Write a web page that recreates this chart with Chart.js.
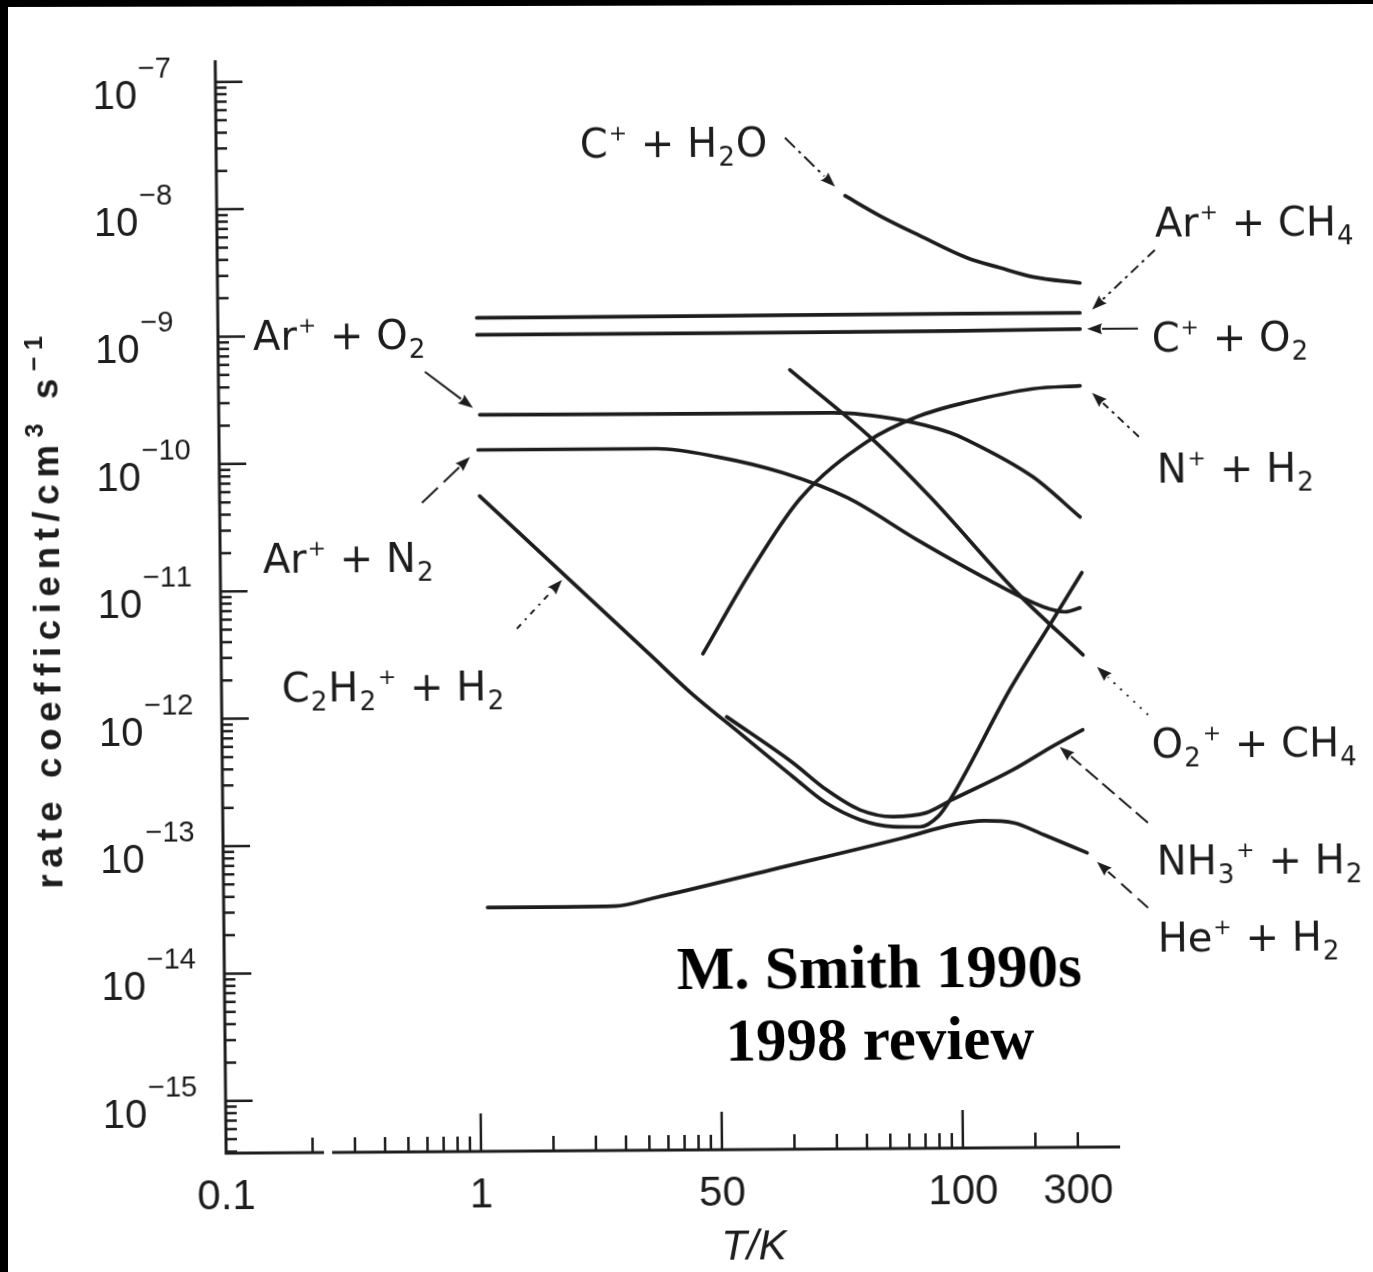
<!DOCTYPE html>
<html><head><meta charset="utf-8">
<script src="https://cdn.jsdelivr.net/npm/chart.js@4.4.0/dist/chart.umd.min.js"></script>
<style>
html,body{margin:0;padding:0;background:#fff;overflow:hidden;}
#wrap{position:relative;width:1373px;height:1272px;background:#fff;overflow:hidden;}
#c{position:absolute;left:0;top:0;width:1373px;height:1272px;transform-origin:686.5px 636px;transform:matrix(1,-0.007,0.01,1,0,0);}
#edgeL{position:absolute;left:0;top:0;width:8px;height:1272px;background:#000;}
#edgeT{position:absolute;left:0;top:0;width:1373px;height:8px;background:#000;clip-path:polygon(0 0,100% 0,100% 4px,0 7px);}
</style></head>
<body><div id="wrap"><canvas id="c" width="1373" height="1272"></canvas><div id="edgeL"></div><div id="edgeT"></div></div>
<script>
// ---------- axis ranges ----------
const X_MIN = 0.0875, X_MAX = 449;
const Y_MIN = 3.89e-16, Y_MAX = 1.48e-7;

// ---------- series (T in K, k in cm^3 s^-1) ----------
const T_cH2O = [35.5, 49.5, 72.3, 113, 155, 212, 332];
const k_cH2O = [1.18e-8, 8.17e-9, 5.68e-9, 3.79e-9, 3.15e-9, 2.66e-9, 2.37e-9];

const T_arCH4 = [1.04, 10, 100, 331];
const k_arCH4 = [1.36e-9, 1.37e-9, 1.38e-9, 1.38e-9];

const T_cO2 = [1.04, 10, 100, 331];
const k_cO2 = [1.0e-9, 1.0e-9, 1.01e-9, 1.03e-9];

const T_arO2 = [1.06, 8.7, 31, 58.7, 94.5, 111, 208, 325];
const k_arO2 = [2.36e-10, 2.34e-10, 2.34e-10, 2.04e-10, 1.61e-10, 1.41e-10, 7.16e-11, 3.45e-11];

const T_arN2 = [1.04, 2.27, 5.74, 10.2, 19.1, 35.5, 68.3, 128, 226, 279, 322];
const k_arN2 = [1.25e-10, 1.25e-10, 1.25e-10, 1.07e-10, 7.95e-11, 5.0e-11, 2.33e-11, 1.18e-11, 6.84e-12, 6.22e-12, 6.67e-12];

const T_nH2 = [8.74, 13.8, 22.4, 42.8, 69.0, 111, 210, 329];
const k_nH2 = [3.05e-12, 1.31e-11, 4.95e-11, 1.38e-10, 2.15e-10, 2.78e-10, 3.52e-10, 3.69e-10];

const T_o2CH4 = [20.6, 45.3, 78.4, 177, 330];
const k_o2CH4 = [5.1e-10, 1.43e-10, 4.97e-11, 8.83e-12, 2.85e-12];

const T_c2h2 = [1.05, 5.27, 7.69, 12.6, 20.4, 27.9, 38.6, 52.8, 68.4, 81.3, 91.4, 165, 241, 329];
const k_c2h2 = [5.43e-11, 3.02e-12, 1.53e-12, 7.0e-13, 3.27e-13, 2.03e-13, 1.49e-13, 1.31e-13, 1.30e-13, 1.56e-13, 2.11e-13, 1.58e-12, 4.92e-12, 1.26e-11];

const T_nh3 = [10.9, 20.4, 28.0, 38.6, 52.9, 72.4, 93.1, 167, 243, 327];
const k_nh3 = [9.73e-13, 4.21e-13, 2.58e-13, 1.78e-13, 1.57e-13, 1.67e-13, 2.11e-13, 3.60e-13, 5.44e-13, 7.36e-13];

const T_heH2 = [1.09, 2.29, 3.69, 5.41, 16.5, 58.6, 94.4, 126, 168, 223, 337];
const k_heH2 = [3.2e-14, 3.2e-14, 3.22e-14, 3.73e-14, 6.10e-14, 1.07e-13, 1.35e-13, 1.44e-13, 1.38e-13, 1.11e-13, 7.96e-14];

// ---------- ticks ----------
const xTickValues = [X_MIN, 1, 10, 100, 300];
const xTickLabels = ['0.1', '1', '50', '100', '300'];
const xMajorTicks = [1, 10, 100];
const xMinorTicks = [0.2,0.3,0.4,0.5,0.6,0.7,0.8,0.9,2,3,4,5,6,7,8,9,20,30,40,50,60,70,80,90,200,300];
const AXIS_BREAK = [0.223, 0.241];
const yMajorTicks = [1e-7,1e-8,1e-9,1e-10,1e-11,1e-12,1e-13,1e-14,1e-15];
const yTickExponents = ['−7','−8','−9','−10','−11','−12','−13','−14','−15'];

// ---------- annotations ----------
const labelTexts = ['C^+ + H_2O','Ar^+ + CH_4','C^+ + O_2','N^+ + H_2','Ar^+ + O_2','Ar^+ + N_2','C_2H_2^+ + H_2','O_2^+ + CH_4','NH_3^+ + H_2','He^+ + H_2'];
const labelT = [2.83, 683, 656, 680, 0.1224, 0.1315, 0.1558, 631, 655, 656];
const labelK = [2.42e-8, 5.40e-9, 6.76e-10, 6.33e-11, 7.87e-10, 1.39e-11, 1.35e-12, 4.40e-13, 5.30e-14, 1.32e-14];

const arrowTailT = [20.1, 682, 576, 575, 0.630, 0.605, 1.48, 611, 604, 600];
const arrowTailK = [3.39e-8, 4.27e-9, 1.03e-9, 1.46e-10, 5.16e-10, 4.83e-11, 4.91e-12, 9.57e-13, 1.36e-13, 2.92e-14];
const arrowHeadT = [32.3, 372, 354, 369, 0.994, 0.962, 2.29, 377, 262, 370];
const arrowHeadK = [1.39e-8, 1.46e-9, 1.03e-9, 3.25e-10, 2.67e-10, 1.10e-10, 1.18e-11, 2.29e-12, 5.43e-13, 6.76e-14];
const arrowDash = [[14,5,3,5],[10,5,3,5],[],[8,5,3,5],[],[22,8],[6,6,2,6],[2,7],[16,6],[14,8]];

const noteLines = ['M. Smith 1990s', '1998 review'];
const noteT = 45.7;
const noteK = [7.11e-15, 1.94e-15];

const yTitle = 'rate coefficient/cm^3 s^{−1}';
const xTitle = 'T/K';

const series = [
  {name:'C+ + H2O', T:T_cH2O, k:k_cH2O},
  {name:'Ar+ + CH4', T:T_arCH4, k:k_arCH4},
  {name:'C+ + O2', T:T_cO2, k:k_cO2},
  {name:'Ar+ + O2', T:T_arO2, k:k_arO2},
  {name:'Ar+ + N2', T:T_arN2, k:k_arN2},
  {name:'N+ + H2', T:T_nH2, k:k_nH2},
  {name:'O2+ + CH4', T:T_o2CH4, k:k_o2CH4},
  {name:'C2H2+ + H2', T:T_c2h2, k:k_c2h2},
  {name:'NH3+ + H2', T:T_nh3, k:k_nh3},
  {name:'He+ + H2', T:T_heH2, k:k_heH2}
];

const INK = '#1d1d1d';

function richTokens(s){
  const out = [];
  for (let i = 0; i < s.length; i++) {
    const ch = s[i];
    if ((ch === '^' || ch === '_') && i + 1 < s.length) {
      const mode = ch === '^' ? 'sup' : 'sub';
      let t;
      if (s[i+1] === '{') { const j = s.indexOf('}', i+2); t = s.slice(i+2, j); i = j; }
      else { t = s[i+1]; i++; }
      out.push([t, mode]);
    } else {
      if (out.length && out[out.length-1][1] === '') out[out.length-1][0] += ch;
      else out.push([ch, '']);
    }
  }
  return out;
}
function drawRich(ctx, s, x, y, st){
  const toks = richTokens(s);
  const fontFor = m => (st.style||'') + ' ' + (st.weight||'normal') + ' ' + (m==='sup'?st.supSize:m==='sub'?st.subSize:st.size) + 'px ' + st.family;
  const track = st.track || 0;
  let w = 0;
  for (const [t,m] of toks) { ctx.font = fontFor(m); for (const c of t) w += ctx.measureText(c).width + track; if (m) w += 2; }
  w -= track;
  let cx = st.align === 'center' ? x - w/2 : (st.align === 'right' ? x - w : x);
  for (const [t,m] of toks) {
    ctx.font = fontFor(m);
    const dy = m === 'sup' ? -st.supRise : (m === 'sub' ? st.subDrop : 0);
    if (m) cx += 1;
    for (const c of t) { ctx.fillText(c, cx, y + dy); cx += ctx.measureText(c).width + track; }
    if (m) cx += 1;
  }
  return w;
}
function drawArrow(ctx, x0, y0, x1, y1, dash){
  const a = Math.atan2(y1-y0, x1-x0), L = 15, W = 5.5;
  const bx = x1 - L*Math.cos(a), by = y1 - L*Math.sin(a);
  ctx.setLineDash(dash); ctx.lineWidth = 2;
  ctx.beginPath(); ctx.moveTo(x0, y0); ctx.lineTo(bx, by); ctx.stroke();
  ctx.setLineDash([]);
  ctx.beginPath(); ctx.moveTo(x1, y1);
  ctx.lineTo(bx - W*Math.sin(a), by + W*Math.cos(a));
  ctx.quadraticCurveTo(bx + 3*Math.cos(a), by + 3*Math.sin(a), bx + W*Math.sin(a), by - W*Math.cos(a));
  ctx.closePath(); ctx.fill();
}

const yMinorTicks = [];
for (let e = -16; e <= -8; e++) for (let m = 2; m <= 9; m++) { const v = m * Math.pow(10, e); if (v > Y_MIN && v < Y_MAX) yMinorTicks.push(v); }

const overlay = {
  id: 'overlay',
  beforeDraw(chart){ const c = chart.ctx; c.save(); c.fillStyle = '#fff'; c.fillRect(0,0,chart.width,chart.height); c.restore(); },
  afterDatasetsDraw(chart){
    const ctx = chart.ctx, ca = chart.chartArea, xs = chart.scales.x, ys = chart.scales.y;
    const px = v => xs.getPixelForValue(v), py = v => ys.getPixelForValue(v);
    ctx.save();
    ctx.strokeStyle = INK; ctx.fillStyle = INK; ctx.lineCap = 'butt';
    ctx.textAlign = 'left'; ctx.textBaseline = 'alphabetic';
    // axes
    ctx.lineWidth = 3;
    ctx.beginPath();
    ctx.moveTo(ca.left, ca.top); ctx.lineTo(ca.left, ca.bottom + 1.5);
    ctx.moveTo(ca.left - 1.5, ca.bottom); ctx.lineTo(px(AXIS_BREAK[0]), ca.bottom);
    ctx.moveTo(px(AXIS_BREAK[1]), ca.bottom); ctx.lineTo(ca.right, ca.bottom);
    ctx.stroke();
    // ticks
    ctx.lineWidth = 2.5;
    ctx.beginPath();
    yMajorTicks.forEach(v => { ctx.moveTo(ca.left, py(v)); ctx.lineTo(ca.left + 27, py(v)); });
    yMinorTicks.forEach(v => { ctx.moveTo(ca.left, py(v)); ctx.lineTo(ca.left + 11, py(v)); });
    xMajorTicks.forEach(v => { ctx.moveTo(px(v), ca.bottom); ctx.lineTo(px(v), ca.bottom - 38); });
    xMinorTicks.forEach(v => { ctx.moveTo(px(v), ca.bottom); ctx.lineTo(px(v), ca.bottom - 15); });
    ctx.stroke();
    // y tick labels
    const ytSt = {family:"'Liberation Sans', Arial, sans-serif", size:40, supSize:29, subSize:29, supRise:31, subDrop:0};
    yMajorTicks.forEach((v,i) => drawRich(ctx, '10^{' + yTickExponents[i] + '}', ca.left - 123, py(v) + 26, ytSt));
    // x tick labels
    ctx.font = "42px 'Liberation Sans', Arial, sans-serif"; ctx.textAlign = 'center';
    xTickValues.forEach((v,i) => ctx.fillText(xTickLabels[i], px(v), ca.bottom + 56));
    // x title
    ctx.font = "italic 42px 'Liberation Sans', Arial, sans-serif";
    ctx.fillText(xTitle, (px(1) + px(100)) / 2 + 31, ca.bottom + 110);
    ctx.textAlign = 'left';
    // y title
    ctx.save();
    ctx.translate(ca.left - 174, (ca.top + ca.bottom) / 2 + 4);
    ctx.rotate(-Math.PI / 2);
    drawRich(ctx, yTitle, 0, 13, {family:"'Liberation Sans', Arial, sans-serif", weight:'bold', size:37, supSize:25, subSize:25, supRise:15, subDrop:0, align:'center', track:6.5});
    ctx.restore();
    // curve labels
    const lbSt = {family:"'DejaVu Sans', sans-serif", size:40, supSize:22, subSize:26, supRise:17, subDrop:9};
    labelTexts.forEach((t,i) => drawRich(ctx, t, px(labelT[i]), py(labelK[i]), lbSt));
    // arrows
    arrowDash.forEach((d,i) => drawArrow(ctx, px(arrowTailT[i]), py(arrowTailK[i]), px(arrowHeadT[i]), py(arrowHeadK[i]), d));
    // note
    ctx.fillStyle = '#000'; ctx.textAlign = 'center';
    ctx.font = "bold 61px 'Liberation Serif', 'Times New Roman', serif";
    noteLines.forEach((t,i) => ctx.fillText(t, px(noteT), py(noteK[i])));
    ctx.restore();
  }
};

new Chart(document.getElementById('c'), {
  type: 'line',
  data: { datasets: series.map(s => ({
    label: s.name,
    data: s.T.map((t,i) => ({x: t, y: s.k[i]})),
    borderColor: INK, borderWidth: 3.7, pointRadius: 0, fill: false,
    cubicInterpolationMode: 'monotone', borderCapStyle: 'round', borderJoinStyle: 'round'
  })) },
  options: {
    responsive: false, animation: false, devicePixelRatio: 1,
    layout: { padding: { left: 221, right: 258, top: 57, bottom: 122 } },
    plugins: { legend: { display: false }, tooltip: { enabled: false } },
    scales: {
      x: { type: 'logarithmic', min: X_MIN, max: X_MAX, display: false },
      y: { type: 'logarithmic', min: Y_MIN, max: Y_MAX, display: false }
    }
  },
  plugins: [overlay]
});
</script>
</body></html>
